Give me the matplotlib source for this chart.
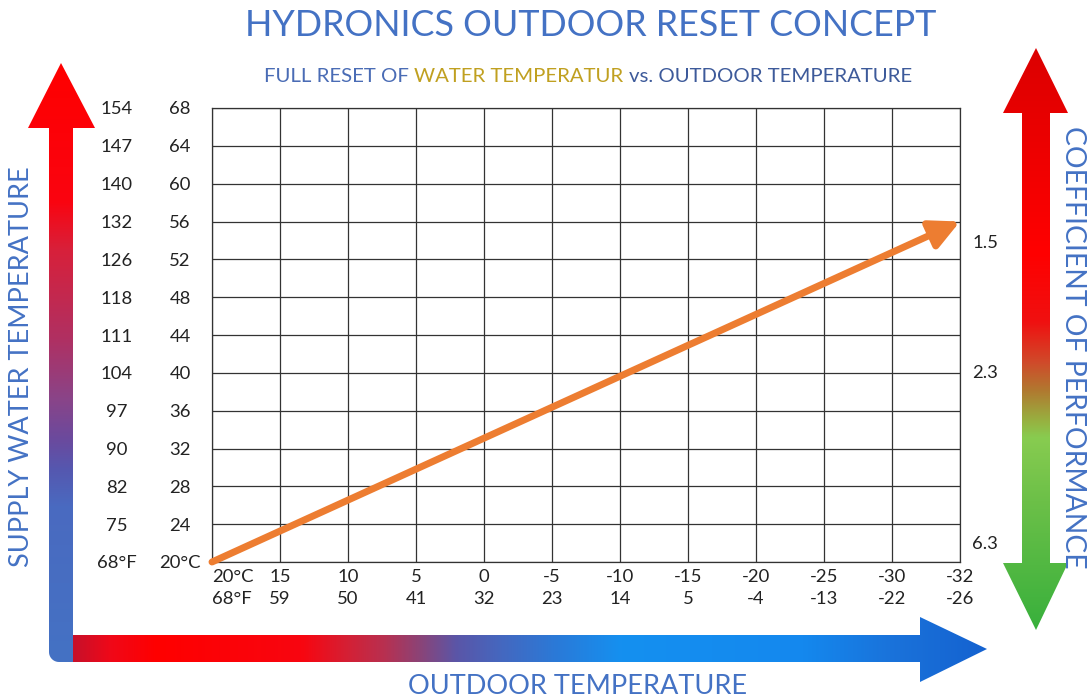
import numpy as np
import matplotlib.pyplot as plt
from matplotlib import transforms
from matplotlib.colors import LinearSegmentedColormap
from matplotlib.patches import Polygon, FancyArrowPatch

plt.rcParams['font.family'] = ['Lato', 'DejaVu Sans']

# outdoor temperature categories (°C row and °F row)
outdoor_c = ['20°C', '15', '10', '5', '0', '-5', '-10', '-15', '-20', '-25', '-30', '-32']
outdoor_f = ['68°F', '59', '50', '41', '32', '23', '14', '5', '-4', '-13', '-22', '-26']

# supply water temperature scale
supply_c = [20, 24, 28, 32, 36, 40, 44, 48, 52, 56, 60, 64, 68]
supply_c_labels = ['20°C', '24', '28', '32', '36', '40', '44', '48', '52', '56', '60', '64', '68']
supply_f_labels = ['68°F', '75', '82', '90', '97', '104', '111', '118', '126', '132', '140', '147', '154']

# reset curve: supply temperature at the warmest and coldest outdoor points
reset_outdoor = ['20°C', '-32']
reset_supply = [20, 56]

# coefficient of performance marks
cop_labels = ['1.5', '2.3', '6.3']

W, H = 1089, 699
BLUE = '#4472c4'
TXT = '#222222'

fig = plt.figure(figsize=(W / 100, H / 100), dpi=100)

# background layer in pixel units (y down) for the big arrows and headings
bg = fig.add_axes([0, 0, 1, 1])
bg.axis('off')


def gradient_shape(points, stops, vertical, box):
    x0, x1, y0, y1 = box
    cmap = LinearSegmentedColormap.from_list('g', stops)
    t = np.linspace(0, 1, 512)
    img = t[:, None] if vertical else t[None, :]
    patch = Polygon(points, closed=True, facecolor='none', edgecolor='none')
    bg.add_patch(patch)
    im = bg.imshow(img, cmap=cmap, extent=(x0, x1, y1, y0), origin='upper',
                   aspect='auto', interpolation='bicubic')
    im.set_clip_path(patch)


# supply water arrow (vertical, rounded bottom corner)
arc = [(59 + 10 * np.cos(a), 652 + 10 * np.sin(a)) for a in np.linspace(np.pi / 2, np.pi, 12)]
left_pts = [(49, 128), (28, 128), (61, 63), (95, 128), (73, 128), (73, 662)] + arc
gradient_shape(left_pts,
               [(0, '#ff0000'), (0.23, '#fa0410'), (0.31, '#d8203a'), (0.46, '#b03062'),
                (0.56, '#8a4488'), (0.63, '#6a4a9e'), (0.68, '#5558b0'), (0.74, '#4a6ac0'),
                (1, '#4472c4')],
               True, (28, 95, 63, 662))

# outdoor temperature arrow (horizontal)
bottom_pts = [(73, 635), (920, 635), (920, 617), (987, 649), (920, 682), (920, 662), (73, 662)]
gradient_shape(bottom_pts,
               [(0, '#c8102a'), (0.04, '#f00818'), (0.09, '#ff0000'), (0.25, '#f80610'),
                (0.30, '#d42035'), (0.34, '#b83050'), (0.38, '#8a4478'), (0.42, '#5a56a8'),
                (0.47, '#4468c0'), (0.53, '#2a7ad8'), (0.60, '#1590f0'), (0.80, '#1488ee'),
                (0.90, '#1a72da'), (1, '#1462d0')],
               False, (73, 987, 617, 682))

# coefficient of performance arrow (double headed)
right_pts = [(1036, 48), (1068, 113), (1050, 113), (1050, 563), (1068, 563), (1036, 630),
             (1003, 563), (1022, 563), (1022, 113), (1003, 113)]
gradient_shape(right_pts,
               [(0, '#dc0000'), (0.35, '#ff0000'), (0.47, '#f01010'), (0.54, '#d04a2a'),
                (0.59, '#b07a30'), (0.64, '#98b040'), (0.67, '#88cc50'), (0.78, '#6cc048'),
                (1, '#38b03c')],
               True, (1003, 1068, 48, 630))

# headings
bg.text(591, 26, 'HYDRONICS OUTDOOR RESET CONCEPT', ha='center', va='center',
        fontsize=25.8, color=BLUE)
seg = bg.text(264, 82, 'FULL RESET OF', ha='left', va='baseline', fontsize=14.7, color='#4a6cb5')
for s, c in [('WATER TEMPERATUR', '#c0a020'), ('vs. OUTDOOR TEMPERATURE', '#3d5a9a')]:
    seg = bg.annotate(s, xy=(1, 0), xycoords=seg, xytext=(4, 0), textcoords='offset points',
                      ha='left', va='bottom', fontsize=14.7, color=c)

bg.text(22, 367, 'SUPPLY WATER TEMPERATURE', rotation=90, ha='center', va='center',
        fontsize=19.5, color=BLUE)
bg.text(1073, 347, 'COEFFICIENT OF PERFORMANCE', rotation=-90, ha='center', va='center',
        fontsize=20.3, color=BLUE)
bg.text(578, 686, 'OUTDOOR TEMPERATURE', ha='center', va='center', fontsize=19.5, color=BLUE)

for lab, y in zip(cop_labels, [243, 373, 544]):
    bg.text(985, y, lab, ha='center', va='center', fontsize=13.3, color=TXT)

bg.set_xlim(0, W)
bg.set_ylim(H, 0)

# main grid
ax = fig.add_axes([212 / W, 1 - 562 / H, (960 - 212) / W, (562 - 108) / H])
ax.set_facecolor('none')
ax.set_xlim(0, len(outdoor_c) - 1)
ax.set_ylim(supply_c[0], supply_c[-1])
ax.set_xticks(range(len(outdoor_c)))
ax.set_xticklabels([f'{c}\n{f}' for c, f in zip(outdoor_c, outdoor_f)],
                   fontsize=13.3, color=TXT, linespacing=1.45)
ax.get_xticklabels()[0].set_ha('left')
ax.set_yticks(supply_c)
ax.set_yticklabels([])
ax.tick_params(length=0, pad=5)
ax.grid(True, color='#333333', lw=0.9)
for sp in ax.spines.values():
    sp.set_color('#333333')
    sp.set_linewidth(0.9)

# two temperature columns on the left
tr = transforms.blended_transform_factory(fig.transFigure, ax.transData)
for v, lc, lf in zip(supply_c, supply_c_labels, supply_f_labels):
    ax.text(180 / W, v, lc, transform=tr, ha='center', va='center_baseline', fontsize=13.3, color=TXT)
    ax.text(117 / W, v, lf, transform=tr, ha='center', va='center_baseline', fontsize=13.3, color=TXT)

# reset curve
xi = [outdoor_c.index(v) for v in reset_outdoor]
ax.add_patch(FancyArrowPatch((xi[0], reset_supply[0]), (xi[1], reset_supply[1]),
                             arrowstyle='-|>,head_length=1.1,head_width=0.55',
                             mutation_scale=16, lw=5, color='#ed7d31',
                             shrinkA=0, shrinkB=0, clip_on=False, zorder=5))

fig.savefig('out.png', dpi=100)
